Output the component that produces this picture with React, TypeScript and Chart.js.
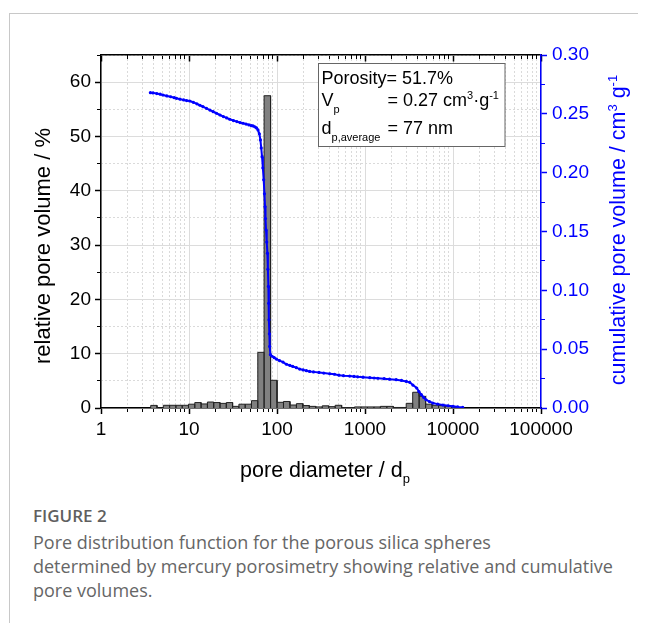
import React, { useEffect, useRef } from 'react';
import { Chart, registerables } from 'chart.js';

Chart.register(...registerables);

// ---- data -------------------------------------------------------------
// histogram bin edges (pore diameter) and relative pore volume (%) per bin
const BIN_EDGES = [
  3.671, 4.329, 5.105, 6.019, 7.099, 8.37, 9.87, 11.64, 13.72, 16.19, 19.09, 22.51,
  26.54, 31.3, 36.9, 43.51, 51.31, 60.51, 71.35, 84.51, 100.05, 118.5, 140.3, 166.2,
  196.8, 233.0, 275.9, 326.8, 386.9, 458.2, 542.5, 642.4, 760.6, 900.7, 1067, 1263,
  1495, 1771, 2097, 2483, 2940, 3482, 4123, 4883, 5781, 6847, 8108, 9602, 11370,
];
const BIN_HEIGHTS = [
  0.48, 0, 0.5, 0.5, 0.5, 0.5, 0.7, 1.0, 0.75, 1.1, 1.0, 0.85,
  1.0, 0.3, 0.7, 0.7, 1.35, 10.25, 57.5, 5.1, 1.05, 1.2, 0.55, 0.8,
  0.45, 0.3, 0.2, 0.4, 0.25, 0.5, 0.08, 0.08, 0.2, 0.2, 0.2, 0.2,
  0.3, 0.3, 0.1, 0.1, 0.86, 2.9, 2.15, 0.7, 0.5, 0.45, 0.35, 0.15,
];

// cumulative pore volume curve
const CUM_DIAMETER = [
  3.64, 3.9, 4.3, 4.7, 5.06, 5.6, 6.2, 6.8, 7.2, 7.9, 8.7, 9.4, 10.2, 11.2, 12.3, 13.3,
  14.4, 15.8, 17.3, 18.8, 20.5, 22.5, 24.6, 26.8, 29, 32, 35, 38, 41.1, 44.5, 48, 51,
  53.4, 56, 58.5, 60.8, 63, 64.8, 66.2, 67.6, 69.1, 70.6, 72, 73.1, 74, 75, 76.4, 77.8,
  78.8, 79.8, 80.5, 81.1, 81.9, 82.6, 84.1, 88, 93, 98.4, 107, 117, 128, 140, 151, 166,
  181, 198, 216, 235, 260, 300, 340, 398, 450, 506, 570, 670, 750, 827, 950, 1135, 1270,
  1400, 1650, 1900, 2260, 2600, 2950, 3220, 3500, 3870, 4100, 4370, 4650, 4930, 5400,
  5900, 6700, 7700, 8800, 10000, 11300, 12900,
];
const CUM_VOLUME = [
  0.268, 0.2678, 0.2672, 0.2667, 0.266, 0.2652, 0.2645, 0.2637, 0.2632, 0.2625, 0.2618,
  0.2613, 0.2609, 0.2598, 0.2585, 0.2573, 0.2561, 0.2547, 0.2532, 0.2518, 0.2505, 0.249,
  0.2477, 0.2465, 0.2454, 0.2443, 0.2434, 0.2426, 0.242, 0.2413, 0.2406, 0.24, 0.2397,
  0.239, 0.238, 0.2363, 0.233, 0.2278, 0.221, 0.2136, 0.204, 0.1939, 0.182, 0.1712,
  0.161, 0.1514, 0.141, 0.1316, 0.118, 0.1033, 0.089, 0.075, 0.063, 0.0523, 0.0453,
  0.044, 0.0428, 0.0416, 0.0402, 0.039, 0.0372, 0.0362, 0.0353, 0.0343, 0.0331, 0.0324,
  0.0317, 0.0311, 0.0307, 0.0302, 0.0297, 0.0291, 0.0287, 0.0279, 0.0275, 0.0271,
  0.0268, 0.0265, 0.0262, 0.0258, 0.0255, 0.0253, 0.0249, 0.0245, 0.0241, 0.0234,
  0.0226, 0.0218, 0.0195, 0.017, 0.014, 0.0113, 0.009, 0.007, 0.0055, 0.0042, 0.0033,
  0.0025, 0.0019, 0.0014, 0.0009, 0.0005,
];

// axes
const X_MAJOR_TICKS = [1, 10, 100, 1000, 10000, 100000];
const X_MINOR_TICKS = [
  2, 3, 4, 5, 6, 7, 8, 9, 20, 30, 40, 50, 60, 70, 80, 90, 200, 300, 400, 500, 600, 700,
  800, 900, 2000, 3000, 4000, 5000, 6000, 7000, 8000, 9000, 20000, 30000, 40000, 50000,
  60000, 70000, 80000, 90000,
];
const Y_MAJOR_TICKS = [0, 10, 20, 30, 40, 50, 60];
const Y_MINOR_TICKS = [5, 15, 25, 35, 45, 55, 65];
const Y2_MAJOR_TICKS = [0, 0.05, 0.1, 0.15, 0.2, 0.25, 0.3];
const Y2_MINOR_TICKS = [0.025, 0.075, 0.125, 0.175, 0.225, 0.275];

const X_MIN = 1;
const X_MAX = 100000;
const Y_MAX = 65;
const Y2_MAX = 0.3;

const FONT = "'Liberation Sans', Arial, Helvetica, sans-serif";
const BLUE = '#0000ff';

type Part = { t: string; size: number; dy?: number };

function drawRich(ctx: CanvasRenderingContext2D, parts: Part[], x: number, y: number, align: 'left' | 'center') {
  const widths = parts.map((p) => {
    ctx.font = `${p.size}px ${FONT}`;
    return ctx.measureText(p.t).width;
  });
  const total = widths.reduce((a, b) => a + b, 0);
  let cx = align === 'center' ? x - total / 2 : x;
  ctx.textAlign = 'left';
  ctx.textBaseline = 'alphabetic';
  parts.forEach((p, i) => {
    ctx.font = `${p.size}px ${FONT}`;
    ctx.fillText(p.t, cx, y + (p.dy ?? 0));
    cx += widths[i];
  });
}

const textPlugin = {
  id: 'figureTexts',
  afterDraw(chart: any) {
    const ctx: CanvasRenderingContext2D = chart.ctx;
    ctx.save();
    // left axis title
    ctx.fillStyle = '#000';
    ctx.save();
    ctx.translate(50, 246);
    ctx.rotate(-Math.PI / 2);
    drawRich(ctx, [{ t: 'relative pore volume / %', size: 22 }], 0, 0, 'center');
    ctx.restore();
    // right axis title
    ctx.fillStyle = BLUE;
    ctx.save();
    ctx.translate(625, 230);
    ctx.rotate(-Math.PI / 2);
    drawRich(
      ctx,
      [
        { t: 'cumulative pore volume / cm', size: 21.5 },
        { t: '3', size: 13, dy: -8 },
        { t: ' g', size: 21.5 },
        { t: '-1', size: 13, dy: -8 },
      ],
      0,
      0,
      'center'
    );
    ctx.restore();
    // x axis title
    ctx.fillStyle = '#000';
    drawRich(
      ctx,
      [
        { t: 'pore diameter / d', size: 21.5 },
        { t: 'p', size: 13, dy: 6 },
      ],
      325,
      477,
      'center'
    );
    // info box
    ctx.fillStyle = '#fff';
    ctx.fillRect(318.5, 63.5, 186.5, 83);
    ctx.strokeStyle = '#666';
    ctx.lineWidth = 1;
    ctx.strokeRect(318.5, 63.5, 186.5, 83);
    ctx.fillStyle = '#000';
    drawRich(ctx, [{ t: 'Porosity= 51.7%', size: 18 }], 321.5, 83.5, 'left');
    drawRich(ctx, [{ t: 'V', size: 18 }, { t: 'p', size: 11, dy: 7 }], 321.5, 105.5, 'left');
    drawRich(
      ctx,
      [
        { t: '= 0.27 cm', size: 18 },
        { t: '3', size: 11, dy: -7 },
        { t: '\u00b7g', size: 18 },
        { t: '-1', size: 11, dy: -7 },
      ],
      387.5,
      105.5,
      'left'
    );
    drawRich(ctx, [{ t: 'd', size: 18 }, { t: 'p,average', size: 11, dy: 7 }], 321.5, 133.5, 'left');
    drawRich(ctx, [{ t: '= 77 nm', size: 18 }], 387.5, 133.5, 'left');
    ctx.restore();
  },
};

function setTicks(values: number[]) {
  return (scale: any) => {
    scale.ticks = values.map((v) => ({ value: v }));
  };
}

export default function App() {
  const ref = useRef<HTMLCanvasElement>(null);

  useEffect(() => {
    const histPoints: { x: number; y: number }[] = [];
    BIN_HEIGHTS.forEach((h, i) => {
      const a = BIN_EDGES[i];
      const b = BIN_EDGES[i + 1];
      histPoints.push({ x: a, y: 0 }, { x: a, y: h }, { x: b, y: h }, { x: b, y: 0 });
    });
    const cumPoints = CUM_DIAMETER.map((d, i) => ({ x: d, y: CUM_VOLUME[i] }));

    const tickFont = { family: FONT, size: 19 };
    const minorGrid = { color: '#dadada', lineWidth: 1, tickLength: 4, tickColor: '#000', tickWidth: 1 };

    const chart = new Chart(ref.current as HTMLCanvasElement, {
      type: 'line',
      data: {
        datasets: [
          {
            label: 'cumulative',
            data: cumPoints,
            xAxisID: 'x',
            yAxisID: 'y1',
            borderColor: BLUE,
            backgroundColor: BLUE,
            borderWidth: 2,
            pointRadius: 1.6,
            pointBorderWidth: 0,
            pointBackgroundColor: BLUE,
            tension: 0,
            fill: false,
          },
          {
            label: 'relative',
            data: histPoints,
            xAxisID: 'x',
            yAxisID: 'y',
            borderColor: '#222',
            borderWidth: 1,
            backgroundColor: '#808080',
            pointRadius: 0,
            tension: 0,
            fill: 'origin',
          },
        ],
      },
      options: {
        responsive: false,
        maintainAspectRatio: false,
        animation: false,
        devicePixelRatio: 1,
        layout: { padding: { top: 55, left: 0, right: 0, bottom: 0 } },
        plugins: { legend: { display: false }, tooltip: { enabled: false } },
        scales: {
          x: {
            type: 'logarithmic',
            position: 'bottom',
            min: X_MIN,
            max: X_MAX,
            afterBuildTicks: setTicks(X_MAJOR_TICKS),
            afterFit: (s: any) => {
              s.height = 92;
            },
            ticks: {
              callback: (v: any) => String(v),
              font: tickFont,
              color: '#000',
              padding: 4,
              autoSkip: false,
              maxRotation: 0,
            },
            grid: { color: '#dcdcdc', lineWidth: 1, tickLength: 6, tickColor: '#000', tickWidth: 1.5 },
            border: { color: '#000', width: 1.5 },
          },
          xMinor: {
            axis: 'x',
            type: 'logarithmic',
            position: { y: 0 },
            min: X_MIN,
            max: X_MAX,
            afterBuildTicks: setTicks(X_MINOR_TICKS),
            ticks: { display: false },
            grid: minorGrid,
            border: { display: false, dash: [2, 2] },
          },
          xTopMajor: {
            axis: 'x',
            type: 'logarithmic',
            position: { y: Y_MAX },
            min: X_MIN,
            max: X_MAX,
            afterBuildTicks: setTicks(X_MAJOR_TICKS),
            ticks: { display: false },
            grid: { drawOnChartArea: false, tickLength: 6, tickColor: '#000', tickWidth: 1.5 },
            border: { color: '#000', width: 1.5 },
          },
          xTopMinor: {
            axis: 'x',
            type: 'logarithmic',
            position: { y: Y_MAX },
            min: X_MIN,
            max: X_MAX,
            afterBuildTicks: setTicks(X_MINOR_TICKS),
            ticks: { display: false },
            grid: { drawOnChartArea: false, tickLength: 4, tickColor: '#000', tickWidth: 1 },
            border: { display: false },
          },
          y: {
            type: 'linear',
            position: 'left',
            min: 0,
            max: Y_MAX,
            afterBuildTicks: setTicks(Y_MAJOR_TICKS),
            afterFit: (s: any) => {
              s.width = 101;
            },
            ticks: { font: tickFont, color: '#000', padding: 4, callback: (v: any) => String(v) },
            grid: { color: '#dcdcdc', lineWidth: 1, tickLength: 6, tickColor: '#000', tickWidth: 1.5 },
            border: { color: '#000', width: 1.5 },
          },
          yMinor: {
            axis: 'y',
            type: 'linear',
            position: { x: X_MIN },
            min: 0,
            max: Y_MAX,
            afterBuildTicks: setTicks(Y_MINOR_TICKS),
            ticks: { display: false },
            grid: minorGrid,
            border: { display: false, dash: [2, 2] },
          },
          y1: {
            type: 'linear',
            position: 'right',
            min: 0,
            max: Y2_MAX,
            afterBuildTicks: setTicks(Y2_MAJOR_TICKS),
            afterFit: (s: any) => {
              s.width = 105;
            },
            ticks: { font: tickFont, color: BLUE, padding: 5, callback: (v: any) => Number(v).toFixed(2) },
            grid: { drawOnChartArea: false, tickLength: 6, tickColor: BLUE, tickWidth: 1.5 },
            border: { color: BLUE, width: 1.5 },
          },
          y1Minor: {
            axis: 'y',
            type: 'linear',
            position: { x: X_MAX },
            min: 0,
            max: Y2_MAX,
            afterBuildTicks: setTicks(Y2_MINOR_TICKS),
            ticks: { display: false },
            grid: { drawOnChartArea: false, tickLength: -4, tickColor: BLUE, tickWidth: 1 },
            border: { display: false },
          },
        } as any,
      },
      plugins: [textPlugin],
    } as any);
    return () => chart.destroy();
  }, []);

  return (
    <div>
      <div
        style={{
          position: 'absolute',
          left: 9,
          top: 13,
          width: 629,
          height: 610,
          borderTop: '1px solid #c8c8c8',
          borderLeft: '1px solid #c8c8c8',
          boxSizing: 'border-box',
        }}
      />
      <canvas
        ref={ref}
        width={646}
        height={500}
        style={{ position: 'absolute', left: 0, top: 0, width: 646, height: 500, display: 'block' }}
      />
      <div
        style={{
          position: 'absolute',
          left: 33,
          top: 504,
          width: 610,
          fontFamily: "'Open Sans', 'Noto Sans', sans-serif",
          color: '#666',
          fontSize: 18,
          lineHeight: '24px',
        }}
      >
        <div style={{ fontWeight: 600, fontSize: 17, color: '#5f5f5f', marginBottom: 2 }}>FIGURE 2</div>
        <div>
          Pore distribution function for the porous silica spheres
          <br />
          determined by mercury porosimetry showing relative and cumulative
          <br />
          pore volumes.
        </div>
      </div>
    </div>
  );
}
